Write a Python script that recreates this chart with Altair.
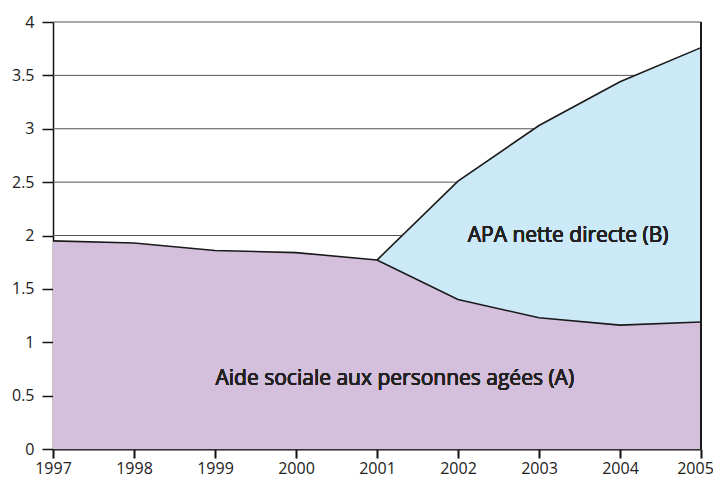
import altair as alt
import pandas as pd

years = [1997, 1998, 1999, 2000, 2001, 2002, 2003, 2004, 2005]
aide_sociale = [1.95, 1.93, 1.86, 1.84, 1.77, 1.40, 1.23, 1.16, 1.19]
apa_nette = [None, None, None, None, 0.0, 1.11, 1.80, 2.28, 2.57]
y_ticks = [0, 0.5, 1, 1.5, 2, 2.5, 3, 3.5, 4]
label_a = "Aide sociale aux personnes agées (A)"
label_b = "APA nette directe (B)"

df = pd.DataFrame({"annee": years, "aide": aide_sociale, "apa": apa_nette})
df["total"] = df["aide"] + df["apa"]
dfb = df.dropna(subset=["apa"])
grid_df = pd.DataFrame({"v": y_ticks})

FONT = "Open Sans"
xs = alt.Scale(domain=[1997, 2005], nice=False, zero=False)
ys = alt.Scale(domain=[0, 4], nice=False)

grid = alt.Chart(grid_df).mark_rule(color="#555555", strokeWidth=1).encode(
    y=alt.Y("v:Q", scale=ys,
            axis=alt.Axis(values=y_ticks, title=None, grid=False, labelFontSize=16,
                          labelFont=FONT, labelColor="#222222", domainColor="#111111",
                          domainWidth=1.5, tickColor="#111111", tickSize=11, tickWidth=1.5,
                          labelPadding=8, format="~g", labelFlush=False,
                          labelOverlap=False))
)

area_a = alt.Chart(df).mark_area(color="#d4bfdc", opacity=1).encode(
    x=alt.X("annee:Q", scale=xs,
            axis=alt.Axis(values=years, format="d", title=None, grid=False,
                          labelFontSize=16, labelFont=FONT, labelColor="#222222",
                          domainColor="#111111", domainWidth=2, tickColor="#111111",
                          tickSize=9, tickWidth=2, labelPadding=2, labelFlush=False,
                          labelOverlap=False,
                          labelOffset={"condition": {"test": "datum.value == 2005", "value": -6},
                                       "value": 0})),
    y=alt.Y("aide:Q", scale=ys),
)

area_b = alt.Chart(dfb).mark_area(color="#cce9f8", opacity=1).encode(
    x=alt.X("annee:Q", scale=xs),
    y=alt.Y("total:Q", scale=ys),
    y2="aide:Q",
)

line_a = alt.Chart(df).mark_line(color="#1a1a1a", strokeWidth=1.6).encode(
    x=alt.X("annee:Q", scale=xs), y=alt.Y("aide:Q", scale=ys)
)
line_b = alt.Chart(dfb).mark_line(color="#1a1a1a", strokeWidth=1.6).encode(
    x=alt.X("annee:Q", scale=xs), y=alt.Y("total:Q", scale=ys)
)

right_border = alt.Chart(df).mark_rule(color="#1a1a1a", strokeWidth=2).encode(
    x=alt.datum(2005), y=alt.datum(0), y2=alt.datum(4)
)

text_a = alt.Chart(df).mark_text(fontSize=21, font=FONT, color="#222222").encode(
    x=alt.datum(2001.22), y=alt.datum(0.66), text=alt.value(label_a)
)
text_b = alt.Chart(df).mark_text(fontSize=21, font=FONT, color="#222222").encode(
    x=alt.datum(2003.36), y=alt.datum(2.0), text=alt.value(label_b)
)

chart = alt.layer(grid, area_a, area_b, line_a, line_b, right_border, text_a, text_b).properties(
    width=648, height=427,
    autosize=alt.AutoSizeParams(type="none"),
    padding={"left": 45, "top": 14, "right": 12, "bottom": 33},
).configure_view(stroke=None)

chart.save("out.html", embed_options={"renderer": "svg", "actions": False})
